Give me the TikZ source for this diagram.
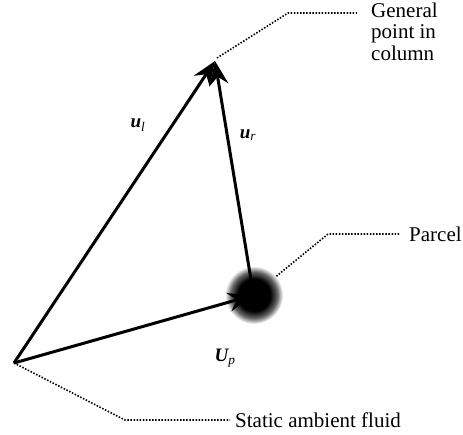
\documentclass[tikz,border=0pt]{standalone}
\usepackage{fontspec}
\setmainfont{Liberation Serif}
\usetikzlibrary{arrows.meta, positioning}
\pgfdeclareradialshading{parcelblob}{\pgfpoint{0bp}{0bp}}{color(0bp)=(black); color(14bp)=(black); color(20bp)=(black!60); color(25bp)=(white); color(50bp)=(white)}
\begin{document}
\begin{tikzpicture}[
    x=1pt, y=-1pt,
    vec/.style={-{Stealth[length=24pt, width=19pt, inset=8pt]}, line width=3pt},
    leader/.style={line width=1.6pt, dash pattern=on 1.5pt off 1.6pt},
    callout/.style={inner sep=0pt, anchor=west, align=left, font=\fontsize{21}{21.5}\selectfont},
    veclabel/.style={inner sep=0pt, font=\fontsize{19}{20}\selectfont\bfseries\itshape}
]
\useasboundingbox (0,0) rectangle (463,434);
% points of the triangle
\coordinate (origin) at (14,363);
\coordinate (apex) at (215,61);
\node[circle, minimum size=58pt, inner sep=0pt, shading=parcelblob] (parcel) at (254,295) {};
% vectors
\draw[vec, shorten >=2pt] (origin) -- (parcel.center);
\draw[vec] (origin) -- (apex);
\draw[vec] ([yshift=-3pt]parcel.center) -- (apex);
\node[veclabel] (ul) at (138,125) {u\textsubscript{\normalfont\itshape l}};
\node[veclabel] (ur) at (248,135) {u\textsubscript{\normalfont\itshape r}};
\node[veclabel] (Up) at (225,358) {U\textsubscript{\normalfont\itshape p}};
% callouts
\node[callout] (general) at (371,31.5) {General\\point in\\column};
\node[callout] (parceltext) at (409,234) {Parcel};
\node[callout] (static) at (235,420) {Static ambient fluid};
\coordinate (genbend) at (288,13);
\coordinate (genend) at (357,13);
\draw[leader] ([shift={(2,-3)}]apex) -- (genbend) -- (genend);
\draw[leader] (parcel.40) -- (328,234) -- ([xshift=-9pt]parceltext.west);
\draw[leader] (origin) -- (125,420) -- ([xshift=-5pt]static.west);
\end{tikzpicture}
\end{document}
